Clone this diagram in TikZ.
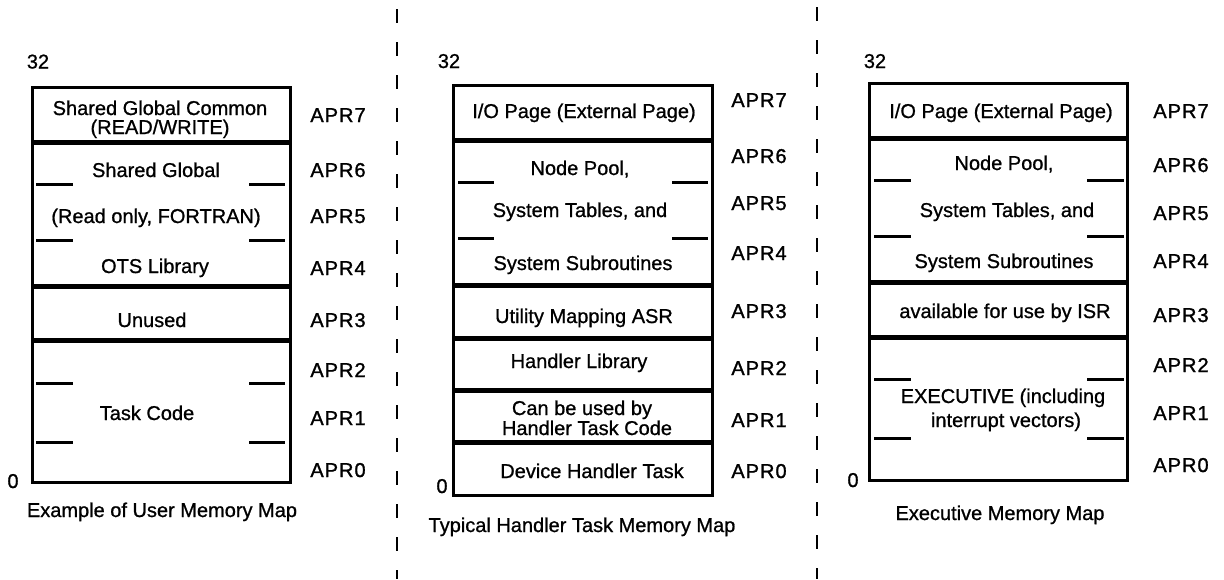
\documentclass[tikz,border=0pt]{standalone}
\usepackage{fontspec}
\setmainfont{Liberation Sans}
\newfontfamily\txtfont[FakeBold=0.9]{Liberation Sans}
\newfontfamily\aprfont[LetterSpace=5,FakeBold=1.3]{Liberation Sans}
\begin{document}
\begin{tikzpicture}[x=1pt,y=-1pt,
  lbl/.style={anchor=base,inner sep=0pt,font=\fontsize{20}{22}\selectfont\txtfont},
  apr/.style={anchor=base,inner sep=0pt,font=\fontsize{20}{22}\selectfont\aprfont},
  frame/.style={line width=3pt},
  sep/.style={line width=5pt},
  tick/.style={line width=3pt},
  divider/.style={line width=2.6pt,dash pattern=on 14pt off 19pt}]
\useasboundingbox (0,0) rectangle (1224,579);

% ---------- dashed dividers ----------
\coordinate (d1t) at (397,9);  \coordinate (d1b) at (397,579);
\coordinate (d2t) at (817,7);  \coordinate (d2b) at (817,579);
\draw[divider] (d1t) -- (d1b);
\draw[divider] (d2t) -- (d2b);

% ---------- User memory map ----------
\draw[frame] (32,87) rectangle (290,482);
\draw[sep] (32,142) -- (290,142);
\draw[sep] (32,286) -- (290,286);
\draw[sep] (32,340) -- (290,340);
\foreach \y in {184,240,383,442} {
  \draw[tick] (36,\y) -- (73,\y);
  \draw[tick] (249,\y) -- (285,\y);
}
\node[lbl] (a32) at (38,68.5) {32};
\node[lbl] (a0) at (13,488) {0};
\node[lbl] (a7t) at (160,115) {Shared Global Common};
\node[lbl] (a7b) at (160,134) {(READ/WRITE)};
\node[lbl] (a6) at (156,177) {Shared Global};
\node[lbl] (a5) at (156,223) {(Read only, FORTRAN)};
\node[lbl] (a4) at (155,273) {OTS Library};
\node[lbl] (a3) at (152,327) {Unused};
\node[lbl] (a1) at (147,420) {Task Code};
\node[lbl] (acap) at (162,517) {Example of User Memory Map};
\node[apr] (ar7) at (338,122) {APR7};
\node[apr] (ar6) at (338,177) {APR6};
\node[apr] (ar5) at (338,223) {APR5};
\node[apr] (ar4) at (338,275) {APR4};
\node[apr] (ar3) at (338,327) {APR3};
\node[apr] (ar2) at (338,377) {APR2};
\node[apr] (ar1) at (338,425) {APR1};
\node[apr] (ar0) at (338,477) {APR0};

% ---------- Handler task memory map ----------
\draw[frame] (453,85) rectangle (712,495);
\foreach \y in {140,285,338,390,442}
  \draw[sep] (453,\y) -- (712,\y);
\foreach \y in {182,238} {
  \draw[tick] (458,\y) -- (494,\y);
  \draw[tick] (672,\y) -- (708,\y);
}
\node[lbl] (b32) at (449,68) {32};
\node[lbl] (b0) at (442,493) {0};
\node[lbl] (b7) at (584,118) {I/O Page (External Page)};
\node[lbl] (b6) at (580,175) {Node Pool,};
\node[lbl] (b5) at (580,217) {System Tables, and};
\node[lbl] (b4) at (583,270) {System Subroutines};
\node[lbl] (b3) at (584,323) {Utility Mapping ASR};
\node[lbl] (b2) at (579,368) {Handler Library};
\node[lbl] (b1t) at (582,415) {Can be used by};
\node[lbl] (b1b) at (587,435) {Handler Task Code};
\node[lbl] (b0t) at (592,478) {Device Handler Task};
\node[lbl] (bcap) at (582,532) {Typical Handler Task Memory Map};
\node[apr] (br7) at (759,107) {APR7};
\node[apr] (br6) at (759,163) {APR6};
\node[apr] (br5) at (759,210) {APR5};
\node[apr] (br4) at (759,260) {APR4};
\node[apr] (br3) at (759,318) {APR3};
\node[apr] (br2) at (759,375) {APR2};
\node[apr] (br1) at (759,427) {APR1};
\node[apr] (br0) at (759,478) {APR0};

% ---------- Executive memory map ----------
\draw[frame] (869,83) rectangle (1127,480);
\foreach \y in {138,282,337}
  \draw[sep] (869,\y) -- (1127,\y);
\foreach \y in {180,236,379,438} {
  \draw[tick] (874,\y) -- (911,\y);
  \draw[tick] (1087,\y) -- (1124,\y);
}
\node[lbl] (c32) at (875,68) {32};
\node[lbl] (c0) at (853,487) {0};
\node[lbl] (c7) at (1001,118) {I/O Page (External Page)};
\node[lbl] (c6) at (1004,170) {Node Pool,};
\node[lbl] (c5) at (1007,217) {System Tables, and};
\node[lbl] (c4) at (1004,268) {System Subroutines};
\node[lbl] (c3) at (1005,318) {available for use by ISR};
\node[lbl] (c1t) at (1003,403) {EXECUTIVE (including};
\node[lbl] (c1b) at (1006,427) {interrupt vectors)};
\node[lbl] (ccap) at (1000,520) {Executive Memory Map};
\node[apr] (cr7) at (1181,118) {APR7};
\node[apr] (cr6) at (1181,172) {APR6};
\node[apr] (cr5) at (1181,220) {APR5};
\node[apr] (cr4) at (1181,268) {APR4};
\node[apr] (cr3) at (1181,322) {APR3};
\node[apr] (cr2) at (1181,372) {APR2};
\node[apr] (cr1) at (1181,420) {APR1};
\node[apr] (cr0) at (1181,472) {APR0};
\end{tikzpicture}
\end{document}
